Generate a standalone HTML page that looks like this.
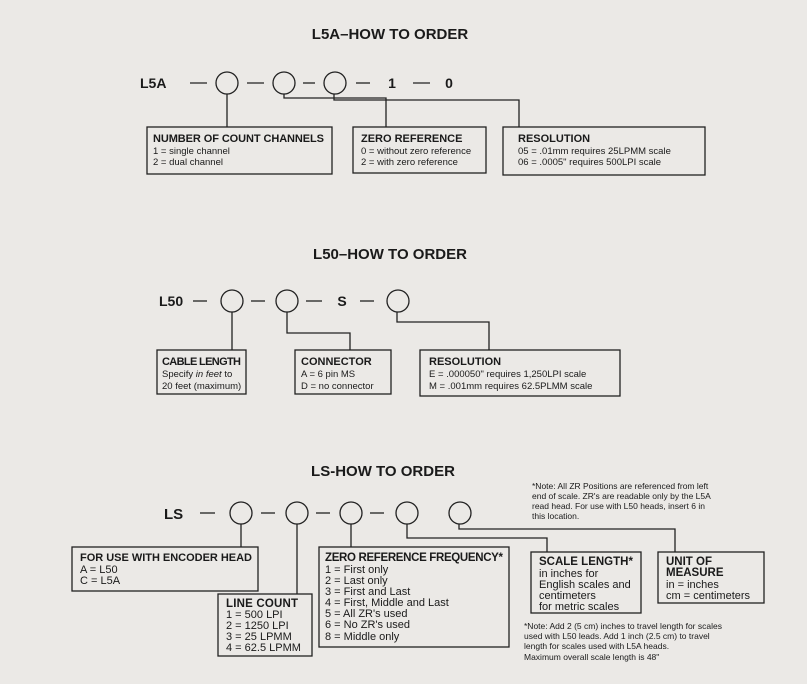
<!DOCTYPE html>
<html><head><meta charset="utf-8"><style>
html,body{margin:0;padding:0;background:#ebe9e6;}
svg{display:block;font-family:"Liberation Sans",Arial,sans-serif;}
</style></head><body>
<svg width="807" height="684" viewBox="0 0 807 684" xmlns="http://www.w3.org/2000/svg">
<rect width="807" height="684" fill="#ebe9e6"/>
<g fill="#1a1a1a">
<text x="390" y="39" font-size="15" font-weight="bold" text-anchor="middle">L5A–HOW TO ORDER</text>
<text x="390" y="259" font-size="15" font-weight="bold" text-anchor="middle">L50–HOW TO ORDER</text>
<text x="383" y="476" font-size="15" font-weight="bold" text-anchor="middle">LS-HOW TO ORDER</text>
</g>
<g stroke="#222" stroke-width="1.3" fill="none">
<line x1="190" y1="83" x2="207" y2="83"/><line x1="247" y1="83" x2="264" y2="83"/><line x1="303" y1="83" x2="315" y2="83"/>
<line x1="356" y1="83" x2="370" y2="83"/><line x1="413" y1="83" x2="430" y2="83"/>
<circle cx="227" cy="83" r="11"/><circle cx="284" cy="83" r="11"/><circle cx="335" cy="83" r="11"/>
<polyline points="227,94 227,127"/>
<polyline points="284,94 284,98 386,98 386,127"/>
<polyline points="334,94 334,100 519,100 519,127"/>
<rect x="147" y="127" width="185" height="47"/>
<rect x="353" y="127" width="133" height="46"/>
<rect x="503" y="127" width="202" height="48"/>
<line x1="193" y1="301" x2="207" y2="301"/><line x1="251" y1="301" x2="265" y2="301"/><line x1="306" y1="301" x2="322" y2="301"/><line x1="360" y1="301" x2="374" y2="301"/>
<circle cx="232" cy="301" r="11"/><circle cx="287" cy="301" r="11"/><circle cx="398" cy="301" r="11"/>
<polyline points="232,312 232,350"/>
<polyline points="287,312 287,333 350,333 350,350"/>
<polyline points="397,312 397,322 489,322 489,350"/>
<rect x="157" y="350" width="89" height="44"/>
<rect x="295" y="350" width="96" height="44"/>
<rect x="420" y="350" width="200" height="46"/>
<line x1="200" y1="513" x2="215" y2="513"/><line x1="261" y1="513" x2="275" y2="513"/><line x1="316" y1="513" x2="330" y2="513"/><line x1="370" y1="513" x2="384" y2="513"/>
<circle cx="241" cy="513" r="11"/><circle cx="297" cy="513" r="11"/><circle cx="351" cy="513" r="11"/><circle cx="407" cy="513" r="11"/><circle cx="460" cy="513" r="11"/>
<polyline points="241,524 241,547"/>
<polyline points="297,524 297,594"/>
<polyline points="351,524 351,547"/>
<polyline points="407,524 407,538 547,538 547,552"/>
<polyline points="459,524 459,529 675,529 675,552"/>
<rect x="72" y="547" width="186" height="44"/>
<rect x="218" y="594" width="94" height="62"/>
<rect x="319" y="547" width="190" height="100"/>
<rect x="531" y="552" width="110" height="61"/>
<rect x="658" y="552" width="106" height="51"/>
</g>
<g fill="#1a1a1a">
<text x="140" y="88" font-size="14" font-weight="bold">L5A</text>
<text x="392" y="88" font-size="14" font-weight="bold" text-anchor="middle">1</text>
<text x="449" y="88" font-size="14" font-weight="bold" text-anchor="middle">0</text>
<text x="153" y="142" font-size="11" font-weight="bold" textLength="171">NUMBER OF COUNT CHANNELS</text>
<text x="153" y="154" font-size="9.5">1 = single channel</text>
<text x="153" y="165" font-size="9.5">2 = dual channel</text>
<text x="361" y="142" font-size="11" font-weight="bold">ZERO REFERENCE</text>
<text x="361" y="154" font-size="9.5">0 = without zero reference</text>
<text x="361" y="165" font-size="9.5">2 = with zero reference</text>
<text x="518" y="142" font-size="11" font-weight="bold">RESOLUTION</text>
<text x="518" y="154" font-size="9.5">05 = .01mm requires 25LPMM scale</text>
<text x="518" y="165" font-size="9.5">06 = .0005" requires 500LPI scale</text>

<text x="159" y="306" font-size="14" font-weight="bold">L50</text>
<text x="342" y="306" font-size="14" font-weight="bold" text-anchor="middle">S</text>
<text x="162" y="365" font-size="11" font-weight="bold" textLength="79">CABLE LENGTH</text>
<text x="162" y="377" font-size="9.5">Specify <tspan font-style="italic">in feet</tspan> to</text>
<text x="162" y="389" font-size="9.5">20 feet (maximum)</text>
<text x="301" y="365" font-size="11" font-weight="bold">CONNECTOR</text>
<text x="301" y="377" font-size="9.5">A = 6 pin MS</text>
<text x="301" y="389" font-size="9.5">D = no connector</text>
<text x="429" y="365" font-size="11" font-weight="bold">RESOLUTION</text>
<text x="429" y="377" font-size="9.5">E = .000050" requires 1,250LPI scale</text>
<text x="429" y="389" font-size="9.5">M = .001mm requires 62.5PLMM scale</text>

<text x="164" y="519" font-size="15" font-weight="bold">LS</text>
<text x="80" y="561" font-size="11" font-weight="bold" textLength="172">FOR USE WITH ENCODER HEAD</text>
<text x="80" y="573" font-size="11">A = L50</text>
<text x="80" y="584" font-size="11">C = L5A</text>
<text x="226" y="607" font-size="11.5" font-weight="bold" textLength="72">LINE COUNT</text>
<text x="226" y="618" font-size="11">1 = 500 LPI</text>
<text x="226" y="629" font-size="11">2 = 1250 LPI</text>
<text x="226" y="640" font-size="11">3 = 25 LPMM</text>
<text x="226" y="651" font-size="11">4 = 62.5 LPMM</text>
<text x="325" y="561" font-size="11.5" font-weight="bold" textLength="178">ZERO REFERENCE FREQUENCY*</text>
<text x="325" y="573" font-size="11">1 = First only</text>
<text x="325" y="584" font-size="11">2 = Last only</text>
<text x="325" y="595" font-size="11">3 = First and Last</text>
<text x="325" y="606" font-size="11">4 = First, Middle and Last</text>
<text x="325" y="617" font-size="11">5 = All ZR's used</text>
<text x="325" y="628" font-size="11">6 = No ZR's used</text>
<text x="325" y="640" font-size="11">8 = Middle only</text>
<text x="539" y="565" font-size="11.5" font-weight="bold">SCALE LENGTH*</text>
<text x="539" y="577" font-size="11">in inches for</text>
<text x="539" y="588" font-size="11">English scales and</text>
<text x="539" y="599" font-size="11">centimeters</text>
<text x="539" y="610" font-size="11">for metric scales</text>
<text x="666" y="565" font-size="11.5" font-weight="bold">UNIT OF</text>
<text x="666" y="576" font-size="11.5" font-weight="bold">MEASURE</text>
<text x="666" y="588" font-size="11">in = inches</text>
<text x="666" y="599" font-size="11">cm = centimeters</text>
<g font-size="8.5">
<text x="532" y="489">*Note: All ZR Positions are referenced from left</text>
<text x="532" y="499">end of scale. ZR's are readable only by the L5A</text>
<text x="532" y="509">read head. For use with L50 heads, insert 6 in</text>
<text x="532" y="519">this location.</text>
<text x="524" y="629">*Note: Add 2 (5 cm) inches to travel length for scales</text>
<text x="524" y="639">used with L50 leads. Add 1 inch (2.5 cm) to travel</text>
<text x="524" y="649">length for scales used with L5A heads.</text>
<text x="524" y="660">Maximum overall scale length is 48"</text>
</g>
</g>
</svg>
</body></html>
